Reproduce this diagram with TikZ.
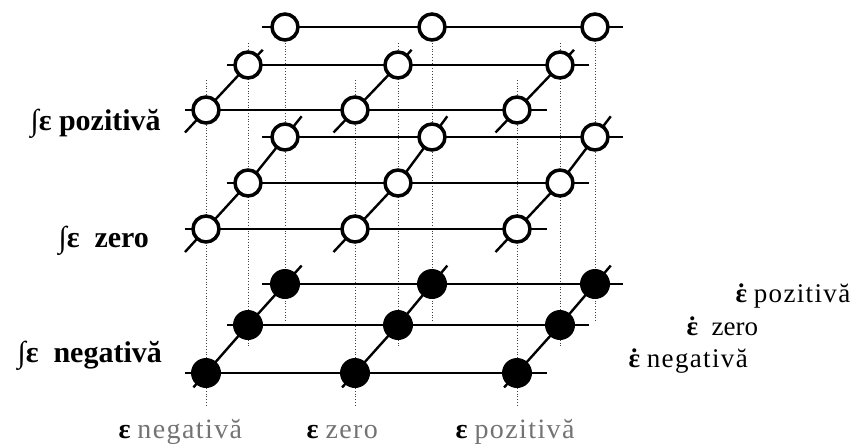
\documentclass[tikz,border=0pt]{standalone}
\usepackage{fontspec}
\setmainfont{Liberation Serif}
\newfontfamily\spacedfont[LetterSpace=5]{Liberation Serif}
\usetikzlibrary{calc}

% bold epsilon with a dot above it
\newcommand{\epsdot}{\textbf{\ooalign{ε\cr\hidewidth˙\hidewidth\cr}}}

\tikzset{
  gridline/.style={line width=2.4pt},
  guide/.style={dotted, line width=0.8pt, black!75},
  opencirc/.style={circle, draw, line width=3.5pt, fill=white, minimum size=26pt, inner sep=0pt},
  fullcirc/.style={circle, fill=black, minimum size=30pt, inner sep=0pt},
  leftlab/.style={anchor=base west, font=\bfseries\fontsize{30}{33}\selectfont},
  rightlab/.style={anchor=base west, font=\fontsize{27}{30}\selectfont},
  bottomlab/.style={anchor=base west, text=black!55, font=\fontsize{28}{30}\selectfont},
}

\begin{document}
\begin{tikzpicture}[x=1pt, y=-1pt]
\useasboundingbox (0,0) rectangle (866,445);

% grid points: layer l (1 top .. 3 bottom), column c, row f/m/b (front/middle/back)
\foreach \l/\yf/\ym/\yb in {1/110/65/27, 2/229/183/137, 3/373/325/284} {
  \foreach \c/\xf/\xm/\xb in {1/206/248/285, 2/355/398/432, 3/517/560/595} {
    \coordinate (f\l\c) at (\xf,\yf);
    \coordinate (m\l\c) at (\xm,\ym);
    \coordinate (b\l\c) at (\xb,\yb);
  }
  \coordinate (fL\l) at (185,\yf); \coordinate (fR\l) at (547,\yf);
  \coordinate (mL\l) at (227,\ym); \coordinate (mR\l) at (589,\ym);
  \coordinate (bL\l) at (262,\yb); \coordinate (bR\l) at (623,\yb);
}

% ends of the dotted verticals
\foreach \c/\xf/\xm/\xb in {1/206/248/285, 2/355/398/432, 3/517/560/595} {
  \coordinate (vft\c) at (\xf,80);  \coordinate (vfb\c) at (\xf,405);
  \coordinate (vmt\c) at (\xm,43);  \coordinate (vmb\c) at (\xm,347);
  \coordinate (vbt\c) at (\xb,43);  \coordinate (vbb\c) at (\xb,322);
}

% dotted verticals
\foreach \c in {1,2,3} {
  \draw[guide] (vft\c) -- (vfb\c);
  \draw[guide] (vmt\c) -- (vmb\c);
  \draw[guide] (vbt\c) -- (vbb\c);
}

% horizontal rows
\foreach \l in {1,2,3} {
  \draw[gridline] (fL\l) -- (fR\l);
  \draw[gridline] (mL\l) -- (mR\l);
  \draw[gridline] (bL\l) -- (bR\l);
}

% diagonals through each column
\foreach \c in {1,2,3} {
  \draw[gridline] ($(f1\c)!-0.5!(m1\c)$) -- (f1\c) -- (m1\c) -- ($(m1\c)!0.4!(b1\c)$);
  \draw[gridline] ($(f2\c)!-0.5!(m2\c)$) -- (f2\c) -- (m2\c) -- (b2\c) -- ($(b2\c)!-0.45!(m2\c)$);
  \draw[gridline] ($(f3\c)!-0.3!(m3\c)$) -- (f3\c) -- (m3\c) -- (b3\c) -- ($(b3\c)!-0.45!(m3\c)$);
}

% nodes
\foreach \l in {1,2} {
  \foreach \c in {1,2,3} {
    \node[opencirc] (of\l\c) at (f\l\c) {};
    \node[opencirc] (om\l\c) at (m\l\c) {};
    \node[opencirc] (ob\l\c) at (b\l\c) {};
  }
}
\foreach \c in {1,2,3} {
  \node[fullcirc] (nf\c) at (f3\c) {};
  \node[fullcirc] (nm\c) at (m3\c) {};
  \node[fullcirc] (nb\c) at (b3\c) {};
}

% labels of the layers
\node[leftlab] (lpos) at (27,130) {∫ε pozitivă};
\node[leftlab] (lzero) at (55,247) {∫ε\ \ zero};
\node[leftlab] (lneg) at (14,362) {∫ε\ \ negativă};

% labels of the rows
\node[rightlab] (rpos) at (732,302) {\epsdot\ {\spacedfont pozitivă}};
\node[rightlab] (rzero) at (683,335) {\epsdot\ \ zero};
\node[rightlab] (rneg) at (625,367) {\epsdot\ {\spacedfont negativă}};

% labels of the columns
\node[bottomlab] (bneg) at (115,438) {\textcolor{black}{\textbf{ε}} {\spacedfont negativă}};
\node[bottomlab] (bzero) at (303,438) {\textcolor{black}{\textbf{ε}} {\spacedfont zero}};
\node[bottomlab] (bpos) at (452,438) {\textcolor{black}{\textbf{ε}} {\spacedfont pozitivă}};
\end{tikzpicture}
\end{document}
